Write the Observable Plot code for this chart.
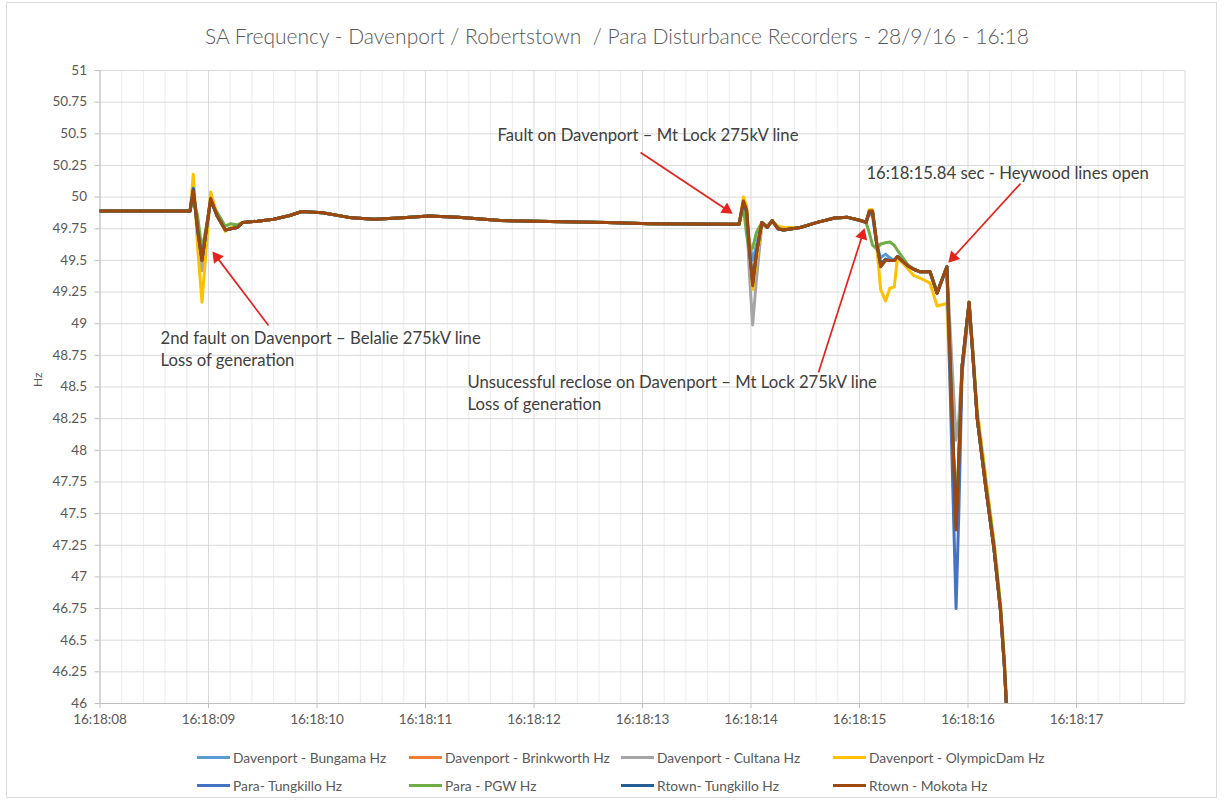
<!DOCTYPE html>
<html>
<head>
<meta charset="utf-8">
<script src="https://cdn.jsdelivr.net/npm/d3@7"></script>
<script src="https://cdn.jsdelivr.net/npm/@observablehq/plot@0.6"></script>
<style>
  body { margin: 0; background: #fff; }
  #chart { position: relative; width: 1224px; height: 802px; background: #fff; font-family: Lato, "Open Sans", sans-serif; overflow: hidden; }
  #frame { position: absolute; left: 6px; top: 2px; width: 1211px; height: 796px; border: 1px solid #d9d9d9; box-sizing: border-box; }
  #title { position: absolute; top: 23px; left: 5px; width: 1224px; text-align: center; font-size: 21px; line-height: 26px; color: #595959; font-weight: 300; white-space: pre; }
  #plot { position: absolute; top: 55px; left: 0; }
  .leg { position: absolute; display: flex; align-items: center; font-size: 13.8px; color: #595959; white-space: nowrap; height: 18px; }
  .leg i { display: inline-block; width: 33px; height: 3px; margin-right: 3px; }
</style>
</head>
<body>
<div id="chart">
  <div id="frame"></div>
  <div id="title"></div>
  <div id="plot"></div>
  <div id="legend"></div>
</div>
<script>
// ---- text ----
const title = "SA Frequency - Davenport / Robertstown  / Para Disturbance Recorders - 28/9/16 - 16:18";
const yAxisLabel = "Hz";

// ---- axis ticks ----
const xTicks = [8, 9, 10, 11, 12, 13, 14, 15, 16, 17];
const xTickLabels = ["16:18:08", "16:18:09", "16:18:10", "16:18:11", "16:18:12", "16:18:13", "16:18:14", "16:18:15", "16:18:16", "16:18:17"];
const yTicks = [46, 46.25, 46.5, 46.75, 47, 47.25, 47.5, 47.75, 48, 48.25, 48.5, 48.75, 49, 49.25, 49.5, 49.75, 50, 50.25, 50.5, 50.75, 51];
const yTickLabels = ["46", "46.25", "46.5", "46.75", "47", "47.25", "47.5", "47.75", "48", "48.25", "48.5", "48.75", "49", "49.25", "49.5", "49.75", "50", "50.25", "50.5", "50.75", "51"];

// ---- series ----
const seriesNames = ["Davenport - Bungama Hz", "Davenport - Brinkworth Hz", "Davenport - Cultana Hz", "Davenport - OlympicDam Hz",
                     "Para- Tungkillo Hz", "Para - PGW Hz", "Rtown- Tungkillo Hz", "Rtown - Mokota Hz"];
const seriesColors = ["#5B9BD5", "#ED7D31", "#A5A5A5", "#FFC000", "#4472C4", "#70AD47", "#255E91", "#9E480E"];

// time in seconds after 16:18:00
const seconds = [
  8.00, 8.40, 8.83,
  8.86, 8.90, 8.94, 9.02, 9.08, 9.155, 9.205, 9.265, 9.315,
  9.45, 9.60, 9.75, 9.86, 10.05, 10.32, 10.525, 10.755, 11.03, 11.30, 11.69, 12.27, 12.67, 13.07, 13.495, 13.89,
  13.93, 13.96, 13.985, 14.015, 14.05, 14.10, 14.15, 14.195, 14.25, 14.30,
  14.455, 14.61, 14.77, 14.89, 15.01, 15.06,
  15.09, 15.12, 15.16, 15.195, 15.24, 15.28, 15.32, 15.35, 15.44, 15.50, 15.56, 15.65, 15.715, 15.805,
  15.89, 15.915, 15.945, 16.01, 16.045, 16.085, 16.165, 16.24, 16.30, 16.335, 16.365
];

// stretches where all recorders overlap
const steadyStart = [49.89, 49.89, 49.89];
const steadyMid = [49.81, 49.825, 49.855, 49.886, 49.876, 49.836, 49.825, 49.835, 49.85, 49.84, 49.815, 49.805, 49.80, 49.79, 49.787, 49.785];
const steadyLate = [49.76, 49.80, 49.835, 49.84, 49.815, 49.80];

const bungama = [...steadyStart,
  50.06, 49.74, 49.52, 49.98, 49.85, 49.74, 49.75, 49.76, 49.80,
  ...steadyMid,
  49.95, 49.85, 49.65, 49.50, 49.62, 49.80, 49.76, 49.815, 49.75, 49.74,
  ...steadyLate,
  49.87, 49.85, 49.62, 49.52, 49.55, 49.52, 49.50, 49.53, 49.46, 49.43, 49.41, 49.41, 49.24, 49.45,
  47.40, 47.92, 48.66, 49.17, 48.75, 48.25, 47.70, 47.22, 46.73, 46.30, 45.80];
const brinkworth = [...steadyStart,
  50.08, 49.72, 49.46, 50.01, 49.85, 49.74, 49.75, 49.76, 49.80,
  ...steadyMid,
  49.97, 49.90, 49.60, 49.31, 49.55, 49.80, 49.76, 49.815, 49.75, 49.74,
  ...steadyLate,
  49.89, 49.89, 49.63, 49.45, 49.50, 49.50, 49.50, 49.53, 49.46, 49.43, 49.41, 49.41, 49.24, 49.45,
  47.38, 47.90, 48.66, 49.17, 48.75, 48.25, 47.70, 47.22, 46.73, 46.30, 45.80];
const cultana = [...steadyStart,
  50.10, 49.70, 49.42, 50.00, 49.85, 49.74, 49.75, 49.76, 49.80,
  ...steadyMid,
  49.95, 49.85, 49.40, 48.99, 49.35, 49.78, 49.76, 49.815, 49.75, 49.74,
  ...steadyLate,
  49.88, 49.88, 49.62, 49.46, 49.50, 49.50, 49.50, 49.53, 49.46, 49.43, 49.41, 49.41, 49.24, 49.45,
  48.08, 48.25, 48.66, 49.17, 48.75, 48.25, 47.70, 47.22, 46.73, 46.30, 45.80];
const olympicDam = [...steadyStart,
  50.18, 49.60, 49.17, 50.04, 49.86, 49.73, 49.76, 49.77, 49.80,
  ...steadyMid,
  50.00, 49.93, 49.60, 49.27, 49.50, 49.78, 49.77, 49.81, 49.77, 49.76,
  ...steadyLate,
  49.90, 49.90, 49.60, 49.27, 49.18, 49.28, 49.29, 49.52, 49.44, 49.38, 49.36, 49.32, 49.14, 49.16,
  47.45, 47.95, 48.62, 49.12, 48.78, 48.32, 47.78, 47.28, 46.78, 46.35, 45.85];
const paraTungkillo = [...steadyStart,
  50.07, 49.73, 49.50, 49.98, 49.85, 49.74, 49.75, 49.76, 49.80,
  ...steadyMid,
  49.96, 49.88, 49.58, 49.32, 49.55, 49.80, 49.76, 49.815, 49.75, 49.74,
  ...steadyLate,
  49.88, 49.88, 49.63, 49.47, 49.50, 49.50, 49.50, 49.53, 49.46, 49.43, 49.41, 49.41, 49.24, 49.45,
  46.75, 47.50, 48.60, 49.15, 48.75, 48.25, 47.70, 47.22, 46.73, 46.30, 45.80];
const paraPGW = [...steadyStart,
  50.00, 49.85, 49.58, 49.96, 49.88, 49.77, 49.79, 49.78, 49.80,
  ...steadyMid,
  49.92, 49.70, 49.57, 49.60, 49.72, 49.80, 49.77, 49.815, 49.75, 49.74,
  ...steadyLate,
  49.72, 49.62, 49.59, 49.63, 49.64, 49.645, 49.62, 49.58, 49.47, 49.43, 49.41, 49.41, 49.25, 49.45,
  47.45, 47.95, 48.66, 49.17, 48.78, 48.28, 47.74, 47.26, 46.77, 46.34, 45.85];
const rtownTungkillo = [...steadyStart,
  50.06, 49.74, 49.50, 49.98, 49.85, 49.74, 49.75, 49.76, 49.80,
  ...steadyMid,
  49.96, 49.88, 49.58, 49.33, 49.56, 49.80, 49.76, 49.815, 49.75, 49.74,
  ...steadyLate,
  49.88, 49.88, 49.62, 49.47, 49.51, 49.50, 49.50, 49.53, 49.46, 49.43, 49.41, 49.41, 49.24, 49.45,
  47.40, 47.92, 48.66, 49.17, 48.75, 48.25, 47.70, 47.22, 46.73, 46.30, 45.80];
const mokota = [...steadyStart,
  50.05, 49.75, 49.50, 49.99, 49.85, 49.74, 49.75, 49.76, 49.80,
  ...steadyMid,
  49.97, 49.90, 49.60, 49.30, 49.55, 49.80, 49.76, 49.815, 49.75, 49.74,
  ...steadyLate,
  49.89, 49.89, 49.63, 49.45, 49.50, 49.50, 49.50, 49.53, 49.46, 49.43, 49.41, 49.41, 49.24, 49.45,
  47.37, 47.90, 48.66, 49.17, 48.75, 48.25, 47.70, 47.22, 46.73, 46.30, 45.80];

const seriesValues = [bungama, brinkworth, cultana, olympicDam, paraTungkillo, paraPGW, rtownTungkillo, mokota];

// ---- annotations (data coordinates: seconds, Hz) ----
const noteLines = [
  {t: 11.664, hz: 50.487, text: "Fault on Davenport – Mt Lock 275kV line"},
  {t: 15.064, hz: 50.186, text: "16:18:15.84 sec - Heywood lines open"},
  {t: 8.558, hz: 48.883, text: "2nd fault on Davenport – Belalie 275kV line"},
  {t: 8.558, hz: 48.709, text: "Loss of generation"},
  {t: 11.387, hz: 48.536, text: "Unsucessful reclose on Davenport – Mt Lock 275kV line"},
  {t: 11.387, hz: 48.362, text: "Loss of generation"}
];
const noteArrows = [
  {t1: 12.982, hz1: 50.352, t2: 13.83, hz2: 49.87},
  {t1: 16.484, hz1: 50.107, t2: 15.82, hz2: 49.483},
  {t1: 9.553, hz1: 48.986, t2: 9.037, hz2: 49.57},
  {t1: 14.622, hz1: 48.614, t2: 15.046, hz2: 49.752}
];

// ---- build ----
const W = 1224, H = 678, ML = 99.5, MR = 39.5, MT = 15, MB = 30;
const xDomain = [8, 18], yDomain = [46, 51];
const pxPerSec = (W - ML - MR) / (xDomain[1] - xDomain[0]);
const pxPerHz = (H - MT - MB) / (yDomain[1] - yDomain[0]);

const rows = [];
seriesNames.forEach((name, i) => {
  seriesValues[i].forEach((v, j) => rows.push({series: name, t: seconds[j], hz: v}));
});

// arrow shafts end at the base of a filled triangular head
const headBack = 7;
const arrowParts = noteArrows.map(a => {
  const dx = (a.t2 - a.t1) * pxPerSec, dy = -(a.hz2 - a.hz1) * pxPerHz;
  const len = Math.hypot(dx, dy), ux = dx / len, uy = dy / len;
  return {
    t1: a.t1, hz1: a.hz1,
    tc: a.t2 - ux * headBack / pxPerSec, hzc: a.hz2 + uy * headBack / pxPerHz,
    angle: Math.atan2(ux, -uy) * 180 / Math.PI
  };
});

document.getElementById("title").textContent = title;

const minorX = d3.range(8, 18.001, 0.2).filter(v => Math.abs(v - Math.round(v)) > 1e-6);

const chart = Plot.plot({
  width: W,
  height: H,
  marginLeft: ML,
  marginRight: MR,
  marginTop: MT,
  marginBottom: MB,
  style: {fontFamily: "Lato, 'Open Sans', sans-serif", background: "transparent"},
  x: {domain: xDomain},
  y: {domain: yDomain},
  color: {domain: seriesNames, range: seriesColors},
  marks: [
    Plot.ruleX(minorX, {stroke: "#ececec"}),
    Plot.ruleX(xTicks.concat([18]), {stroke: "#d9d9d9"}),
    Plot.ruleY(yTicks, {stroke: "#d9d9d9"}),
    Plot.ruleX([8], {stroke: "#bfbfbf"}),
    Plot.ruleY([46], {stroke: "#bfbfbf"}),
    Plot.axisY({ticks: yTicks, tickFormat: (d) => yTickLabels[yTicks.indexOf(d)], tickSize: 5, tickPadding: 8,
      stroke: "#bfbfbf", fill: "#595959", fontSize: 13.5, label: null}),
    Plot.axisX({ticks: xTicks, tickFormat: (d) => xTickLabels[xTicks.indexOf(d)], tickSize: 5, tickPadding: 6,
      stroke: "#bfbfbf", fill: "#595959", fontSize: 13.5, label: null}),
    Plot.text([yAxisLabel], {frameAnchor: "left", dx: -62, rotate: -90, fill: "#595959", fontSize: 12}),
    Plot.line(rows, {x: "t", y: "hz", z: "series", stroke: "series", strokeWidth: 3, clip: true, strokeLinejoin: "round"}),
    Plot.text(noteLines, {x: "t", y: "hz", text: "text", textAnchor: "start", fill: "#404040", fontSize: 16.7}),
    Plot.link(arrowParts, {x1: "t1", y1: "hz1", x2: "tc", y2: "hzc", stroke: "#e5221c", strokeWidth: 1.7}),
    Plot.dot(arrowParts, {x: "tc", y: "hzc", symbol: "triangle", r: 4.6, rotate: "angle", fill: "#e5221c", stroke: "none"})
  ]
});
document.getElementById("plot").appendChild(chart);

// ---- legend ----
const legendCols = [197, 409, 621, 833];
const legendRows = [748, 776];
const legend = document.getElementById("legend");
seriesNames.forEach((name, i) => {
  const d = document.createElement("div");
  d.className = "leg";
  d.style.left = legendCols[i % 4] + "px";
  d.style.top = legendRows[Math.floor(i / 4)] + "px";
  const sw = document.createElement("i");
  sw.style.background = seriesColors[i];
  d.appendChild(sw);
  d.appendChild(document.createTextNode(name));
  legend.appendChild(d);
});
</script>
</body>
</html>
